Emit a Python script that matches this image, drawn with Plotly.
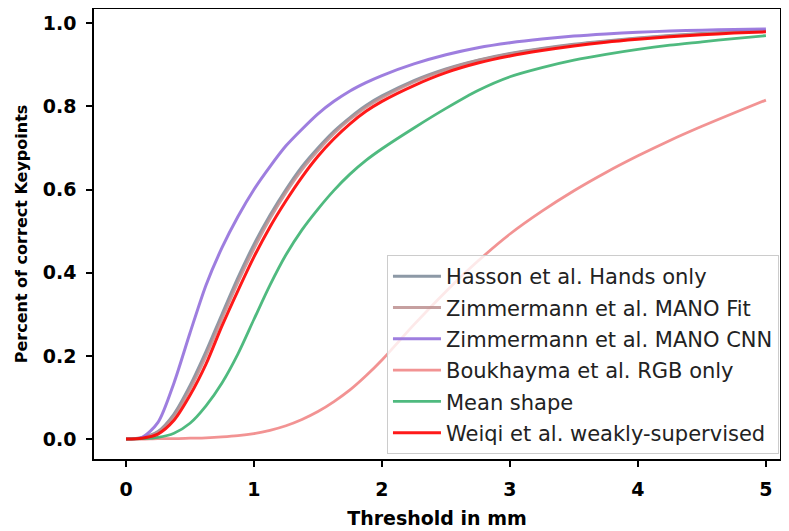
import plotly.graph_objects as go

thresholds = [0, 0.125, 0.25, 0.375, 0.5, 0.625, 0.75, 0.875, 1.0, 1.125, 1.25, 1.375,
              1.5, 1.625, 1.75, 1.875, 2.0, 2.25, 2.5, 2.75, 3.0, 3.25, 3.5, 3.75,
              4.0, 4.25, 4.5, 4.75, 5.0]

hasson = [0, 0.003, 0.018, 0.06, 0.128, 0.21, 0.30, 0.388, 0.468, 0.538, 0.60, 0.655,
          0.70, 0.74, 0.773, 0.802, 0.825, 0.862, 0.89, 0.911, 0.927, 0.939, 0.949,
          0.957, 0.964, 0.97, 0.975, 0.979, 0.982]
mano_fit = [0, 0.003, 0.016, 0.055, 0.12, 0.20, 0.29, 0.378, 0.458, 0.53, 0.593, 0.648,
            0.694, 0.735, 0.769, 0.798, 0.821, 0.859, 0.888, 0.91, 0.926, 0.938, 0.948,
            0.956, 0.963, 0.969, 0.974, 0.978, 0.981]
mano_cnn = [0, 0.004, 0.04, 0.135, 0.255, 0.37, 0.46, 0.535, 0.60, 0.655, 0.705, 0.745,
            0.782, 0.812, 0.837, 0.857, 0.874, 0.902, 0.924, 0.941, 0.953, 0.962, 0.969,
            0.974, 0.978, 0.981, 0.983, 0.985, 0.986]
boukhayma = [0, 0.0, 0.001, 0.001, 0.002, 0.003, 0.005, 0.008, 0.013, 0.021, 0.032, 0.047,
             0.066, 0.09, 0.118, 0.152, 0.19, 0.275, 0.355, 0.428, 0.493, 0.548, 0.597,
             0.641, 0.681, 0.718, 0.752, 0.784, 0.815]
mean_shape = [0, 0.001, 0.004, 0.014, 0.038, 0.08, 0.135, 0.205, 0.288, 0.37, 0.443, 0.503,
              0.553, 0.598, 0.637, 0.67, 0.698, 0.748, 0.795, 0.838, 0.871, 0.893, 0.911,
              0.925, 0.937, 0.947, 0.955, 0.963, 0.97]
weiqi = [0, 0.002, 0.012, 0.045, 0.105, 0.18, 0.272, 0.357, 0.438, 0.51, 0.573, 0.63,
         0.68, 0.722, 0.758, 0.788, 0.812, 0.85, 0.881, 0.904, 0.921, 0.934, 0.945,
         0.954, 0.961, 0.967, 0.972, 0.976, 0.979]

names = ["Hasson et al. Hands only", "Zimmermann et al. MANO Fit",
         "Zimmermann et al. MANO CNN", "Boukhayma et al. RGB only",
         "Mean shape", "Weiqi et al. weakly-supervised"]
series = [hasson, mano_fit, mano_cnn, boukhayma, mean_shape, weiqi]
colors = ["rgba(112,128,144,0.8)", "rgba(188,143,143,0.85)", "rgba(147,112,219,0.9)",
          "rgba(240,128,128,0.85)", "rgba(60,179,113,0.9)", "rgba(255,0,0,0.9)"]
widths = [3, 3, 3, 2.8, 2.8, 3]

fig = go.Figure()
for i, (n, s, c, w) in enumerate(zip(names, series, colors, widths)):
    fig.add_trace(go.Scatter(x=thresholds, y=s, name=n, mode="lines",
                             line=dict(color=c, width=w, shape="spline", smoothing=0.8),
                             legendgroup=f"g{i}"))

axis_common = dict(showline=True, linecolor="black", linewidth=1.5, mirror=True,
                   ticks="outside", ticklen=6, tickwidth=1.5, tickcolor="black",
                   showgrid=False, zeroline=False, automargin=False,
                   ticklabelstandoff=6,
                   tickfont=dict(family="DejaVu Sans", size=19, color="black", weight="bold"))

fig.update_layout(
    width=789, height=531,
    margin=dict(l=86, r=17, t=1, b=80),
    plot_bgcolor="white", paper_bgcolor="white",
    showlegend=True,
    legend=dict(x=0.9985, y=0.011, xanchor="right", yanchor="bottom",
                bgcolor="rgba(255,255,255,0.8)", bordercolor="#cccccc", borderwidth=1,
                font=dict(family="DejaVu Sans", size=21, color="#222222"),
                tracegroupgap=1, traceorder="grouped", itemwidth=48),
    xaxis=dict(range=[-0.25, 5.11], tickvals=[0, 1, 2, 3, 4, 5],
               title=dict(text="Threshold in mm", standoff=13,
                          font=dict(family="DejaVu Sans", size=19, color="black",
                                    weight="bold")),
               **axis_common),
    yaxis=dict(range=[-0.048, 1.034], tickvals=[0, 0.2, 0.4, 0.6, 0.8, 1.0],
               tickformat=".1f",
               title=dict(text="Percent of correct Keypoints", standoff=11,
                          font=dict(family="DejaVu Sans", size=16, color="black",
                                    weight="bold")),
               **axis_common),
)

fig.write_html("out.html")
